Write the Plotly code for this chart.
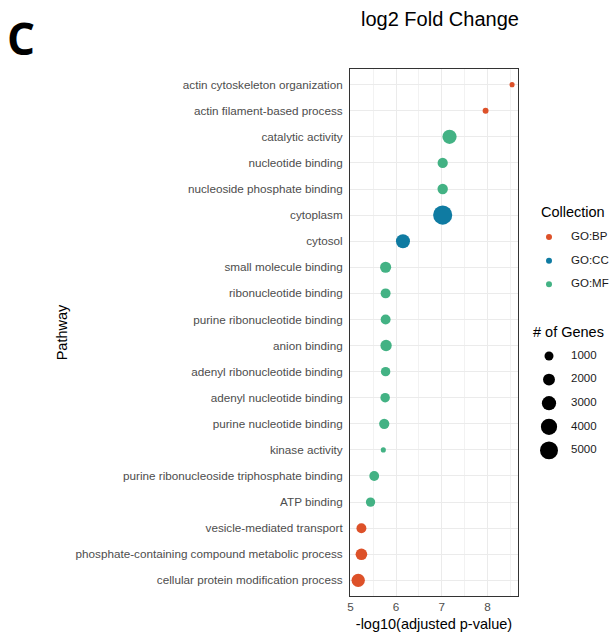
import plotly.graph_objects as go
import numpy as np

# ---- data ----
pathways = [
    "actin cytoskeleton organization",
    "actin filament-based process",
    "catalytic activity",
    "nucleotide binding",
    "nucleoside phosphate binding",
    "cytoplasm",
    "cytosol",
    "small molecule binding",
    "ribonucleotide binding",
    "purine ribonucleotide binding",
    "anion binding",
    "adenyl ribonucleotide binding",
    "adenyl nucleotide binding",
    "purine nucleotide binding",
    "kinase activity",
    "purine ribonucleoside triphosphate binding",
    "ATP binding",
    "vesicle-mediated transport",
    "phosphate-containing compound metabolic process",
    "cellular protein modification process",
]
neglog10_padj = [8.54, 7.96, 7.17, 7.02, 7.02, 7.02, 6.15, 5.77, 5.77, 5.77,
                 5.78, 5.77, 5.76, 5.74, 5.72, 5.52, 5.44, 5.24, 5.24, 5.17]
n_genes = [100, 250, 3000, 1400, 1450, 5700, 2900, 1700, 1300, 1300,
           1800, 1150, 1150, 1400, 100, 1250, 1100, 1300, 1900, 2600]
collection = ["GO:BP", "GO:BP", "GO:MF", "GO:MF", "GO:MF", "GO:CC", "GO:CC", "GO:MF", "GO:MF", "GO:MF",
              "GO:MF", "GO:MF", "GO:MF", "GO:MF", "GO:MF", "GO:MF", "GO:MF", "GO:BP", "GO:BP", "GO:BP"]
collections = ["GO:BP", "GO:CC", "GO:MF"]
size_breaks = [1000, 2000, 3000, 4000, 5000]
x_ticks = [5, 6, 7, 8]

# ---- styles ----
colors = {"GO:BP": "#dd5129", "GO:CC": "#0f7ba2", "GO:MF": "#43b284"}
FONT = "Liberation Sans, Arial, sans-serif"


def diam(n):
    # area-proportional size scale (ggplot scale_size-like)
    return float(np.sqrt(20 + 0.0607 * n))


fig = go.Figure()

cat_order = pathways[::-1]  # first pathway drawn at top

for c in collections:
    idx = [i for i, cc in enumerate(collection) if cc == c]
    fig.add_trace(go.Scatter(
        x=[neglog10_padj[i] for i in idx],
        y=[pathways[i] for i in idx],
        mode="markers",
        marker=dict(color=colors[c], size=[diam(n_genes[i]) for i in idx], line=dict(width=0), opacity=1),
        showlegend=False,
        hoverinfo="skip",
    ))

# ---- legend column (auxiliary axes) ----
row_c = list(range(len(collections)))
fig.add_trace(go.Scatter(
    x=[19] * len(collections), y=row_c, mode="markers",
    marker=dict(color=[colors[c] for c in collections], size=6, line=dict(width=0), opacity=1),
    xaxis="x2", yaxis="y2", showlegend=False, hoverinfo="skip"))
fig.add_trace(go.Scatter(
    x=[41] * len(collections), y=row_c, mode="text", text=collections,
    textposition="middle right", textfont=dict(family=FONT, size=11.5, color="#1a1a1a"),
    xaxis="x2", yaxis="y2", showlegend=False, hoverinfo="skip"))

row_s = [5.04 + i for i in range(len(size_breaks))]
fig.add_trace(go.Scatter(
    x=[19] * len(size_breaks), y=row_s, mode="markers",
    marker=dict(color="black", size=[diam(b) for b in size_breaks], line=dict(width=0), opacity=1),
    xaxis="x2", yaxis="y2", showlegend=False, hoverinfo="skip"))
fig.add_trace(go.Scatter(
    x=[41] * len(size_breaks), y=row_s, mode="text", text=[str(b) for b in size_breaks],
    textposition="middle right", textfont=dict(family=FONT, size=11.5, color="#1a1a1a"),
    xaxis="x2", yaxis="y2", showlegend=False, hoverinfo="skip"))

fig.update_layout(
    width=611, height=633,
    margin=dict(l=350, r=0, t=69, b=37),
    paper_bgcolor="white", plot_bgcolor="white",
    font=dict(family=FONT, color="#4d4d4d"),
    showlegend=False,
    xaxis=dict(
        domain=[0, 168 / 261],
        range=[4.99, 8.67],
        tickvals=x_ticks, ticktext=[str(t) for t in x_ticks],
        tickfont=dict(size=11.7, color="#4d4d4d"),
        showgrid=True, gridcolor="#ebebeb", gridwidth=1.1,
        minor=dict(dtick=0.5, showgrid=True, gridcolor="#f2f2f2", gridwidth=0.6),
        showline=True, linecolor="#333333", linewidth=1, mirror=True,
        ticks="", zeroline=False,
        title=dict(text="-log10(adjusted p-value)", font=dict(size=14.5, color="black"), standoff=6),
    ),
    yaxis=dict(
        type="category", categoryorder="array", categoryarray=cat_order,
        range=[-0.6, len(pathways) - 0.4],
        tickfont=dict(size=11.7, color="#4d4d4d"),
        showgrid=True, gridcolor="#ebebeb", gridwidth=1.1,
        showline=True, linecolor="#333333", linewidth=1, mirror=True,
        ticks="", ticklabelstandoff=4,
        title=dict(text="Pathway", font=dict(size=14.5, color="black"), standoff=4),
    ),
    xaxis2=dict(domain=[180 / 261, 1], range=[0, 81], visible=False, fixedrange=True),
    yaxis2=dict(domain=[0, 1], range=[15.21, -7.12], visible=False, fixedrange=True, anchor="x2"),
)

fig.add_annotation(text="<b>C</b>", xref="paper", yref="paper", x=-345 / 261, y=1 + 63 / 527,
                   xanchor="left", yanchor="top", showarrow=False,
                   font=dict(family="Open Sans, sans-serif", size=44, color="black"))
fig.add_annotation(text="log2 Fold Change", xref="paper", yref="paper", x=(440 - 350) / 261, y=1 + 63 / 527,
                   xanchor="center", yanchor="top", showarrow=False,
                   font=dict(family=FONT, size=20, color="black"))
fig.add_annotation(text="Collection", xref="x2", yref="y2", x=9, y=-1.05,
                   xanchor="left", yanchor="middle", showarrow=False,
                   font=dict(family=FONT, size=14.5, color="black"))
fig.add_annotation(text="# of Genes", xref="x2", yref="y2", x=1, y=4.03,
                   xanchor="left", yanchor="middle", showarrow=False,
                   font=dict(family=FONT, size=14.5, color="black"))

fig.write_html("out.html")
